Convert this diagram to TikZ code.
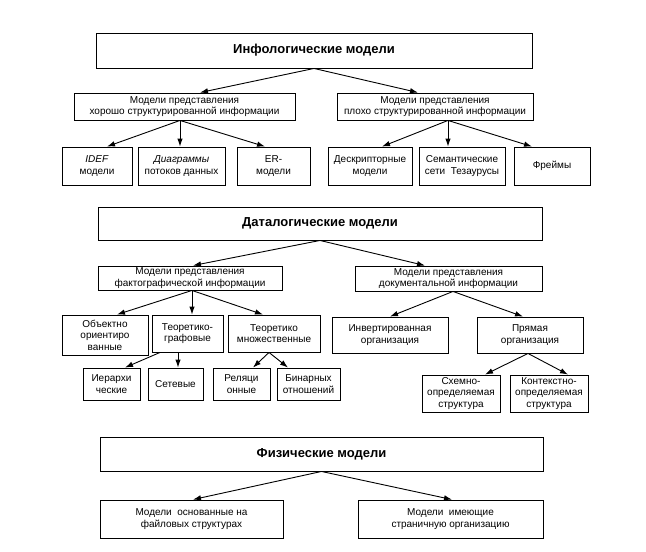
\documentclass[tikz,border=0pt]{standalone}
\usepackage{fontspec}
\setmainfont{Liberation Sans}
\usetikzlibrary{arrows.meta}
\begin{document}
\begin{tikzpicture}[x=1pt,y=-1pt,
  box/.style={draw,line width=0.9pt,inner sep=1pt,align=center,font=\fontsize{10}{11.5}\selectfont},
  title/.style={box,font=\fontsize{13}{15}\selectfont\bfseries},
  arr/.style={line width=0.9pt,-{Latex[length=8pt,width=5.5pt]}}]
\useasboundingbox (0,0) rectangle (646,552);
% Infological
\node[title,minimum width=436,minimum height=35] (info) at (314,50.5) {Инфологические модели};
\node[box,minimum width=221,minimum height=27] (hs) at (184.5,106.5) {Модели представления\\хорошо структурированной информации};
\node[box,minimum width=196,minimum height=27] (ps) at (435,106.5) {Модели представления\\плохо структурированной информации};
\node[box,minimum width=70,minimum height=38] (idef) at (97,166) {\textit{IDEF}\\модели};
\node[box,minimum width=87,minimum height=38] (dfd) at (181.5,166) {\textit{Диаграммы}\\потоков данных};
\node[box,minimum width=73,minimum height=38] (er) at (273.5,166) {ER-\\модели};
\node[box,minimum width=84,minimum height=38] (desc) at (370,166) {Дескрипторные\\модели};
\node[box,minimum width=86,minimum height=38] (sem) at (462,166) {Семантические\\сети\ \ Тезаурусы};
\node[box,minimum width=76,minimum height=38] (frm) at (552,166) {Фреймы};
\draw[arr] (info.south) -- ([xshift=15.5pt]hs.north);
\draw[arr] (info.south) -- ([xshift=-17pt]ps.north);
\draw[arr] ([xshift=-4.5pt]hs.south) -- ([xshift=10pt]idef.north);
\draw[arr] ([xshift=-4.5pt]hs.south) -- ([xshift=-1.5pt]dfd.north);
\draw[arr] ([xshift=-4.5pt]hs.south) -- ([xshift=-8.5pt]er.north);
\draw[arr] ([xshift=13pt]ps.south) -- ([xshift=12pt]desc.north);
\draw[arr] ([xshift=13pt]ps.south) -- ([xshift=-14pt]sem.north);
\draw[arr] ([xshift=13pt]ps.south) -- ([xshift=-20pt]frm.north);
% Datalogical
\node[title,minimum width=444,minimum height=33] (data) at (320,223.5) {Даталогические модели};
\node[box,minimum width=184,minimum height=24] (fs) at (190,278) {Модели представления\\фактографической информации};
\node[box,minimum width=187,minimum height=25] (ds) at (448.5,278.5) {Модели представления\\документальной информации};
\draw[arr] (data.south) -- ([xshift=3pt]fs.north);
\draw[arr] (data.south) -- ([xshift=-23.5pt]ds.north);
\node[box,minimum width=86,minimum height=40] (obj) at (105,335) {Объектно\\ориентиро\\ванные};
\node[box,minimum width=71,minimum height=37] (tg) at (187.5,333.5) {Теоретико-\\графовые};
\node[box,minimum width=92,minimum height=37] (tm) at (274,333.5) {Теоретико\\множественные};
\draw[arr] ([xshift=2pt]fs.south) -- ([xshift=12pt]obj.north);
\draw[arr] ([xshift=2pt]fs.south) -- ([xshift=4.5pt]tg.north);
\draw[arr] ([xshift=2pt]fs.south) -- ([xshift=-11pt]tm.north);
\node[box,minimum width=57,minimum height=32] (ier) at (111.5,384) {Иерархи\\ческие};
\node[box,minimum width=55,minimum height=32] (set) at (175.5,384) {Сетевые};
\node[box,minimum width=57,minimum height=32] (rel) at (241.5,384) {Реляци\\онные};
\node[box,minimum width=63,minimum height=32] (bin) at (308.5,384) {Бинарных\\отношений};
\draw[arr] ([xshift=-27.5pt]tg.south) -- ([xshift=13.5pt]ier.north);
\draw[arr] ([xshift=-9.5pt]tg.south) -- ([xshift=2.5pt]set.north);
\draw[arr] ([xshift=-5pt]tm.south) -- ([xshift=11.5pt]rel.north);
\draw[arr] ([xshift=-5pt]tm.south) -- ([xshift=-20.5pt]bin.north);
\node[box,minimum width=116,minimum height=36] (inv) at (390,335) {Инвертированная\\организация};
\node[box,minimum width=106,minimum height=36] (pr) at (530,335) {Прямая\\организация};
\draw[arr] ([xshift=4.5pt]ds.south) -- (inv.north);
\draw[arr] ([xshift=4.5pt]ds.south) -- ([xshift=-7pt]pr.north);
\node[box,minimum width=78,minimum height=37] (sch) at (461,393.5) {Схемно-\\определяемая\\структура};
\node[box,minimum width=78,minimum height=37] (ctx) at (549,393.5) {Контекстно-\\определяемая\\структура};
\draw[arr] ([xshift=-2pt]pr.south) -- ([xshift=24pt]sch.north);
\draw[arr] ([xshift=-2pt]pr.south) -- ([xshift=19pt]ctx.north);
% Physical
\node[title,minimum width=443,minimum height=34] (phys) at (321.5,454) {Физические модели};
\node[box,minimum width=183,minimum height=38] (fl) at (191.5,519) {Модели\ \ основанные на\\файловых структурах};
\node[box,minimum width=185,minimum height=38] (pg) at (450.5,519) {Модели\ \ имеющие\\страничную организацию};
\draw[arr] (phys.south) -- ([xshift=1.5pt]fl.north);
\draw[arr] (phys.south) -- ([xshift=1.5pt]pg.north);
\end{tikzpicture}
\end{document}
